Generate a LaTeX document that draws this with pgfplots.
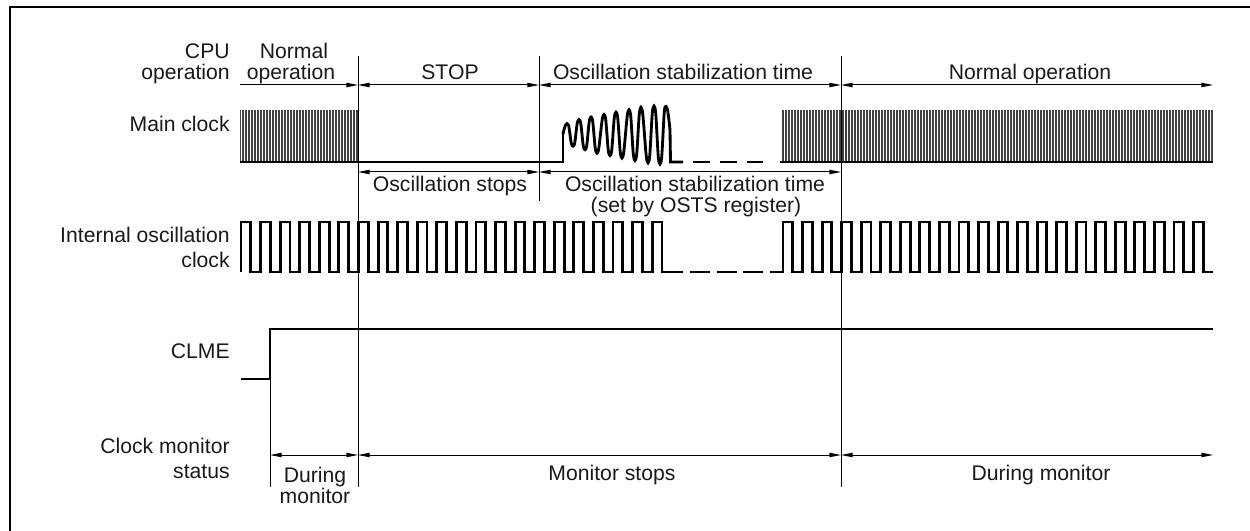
\documentclass[border=0pt]{standalone}
\usepackage{fontspec}
\setmainfont{Liberation Sans}
\usepackage{pgfplots}
\pgfplotsset{compat=1.18}
\usetikzlibrary{arrows.meta,patterns.meta}
\tikzset{
  sig/.style={line width=1.7pt, black, line join=miter},
  thinl/.style={line width=0.6pt, black},
  dim/.style={line width=0.6pt, black, {Triangle[length=7pt,width=2.6pt]}-{Triangle[length=7pt,width=2.6pt]}},
  rdim/.style={line width=0.6pt, black, -{Triangle[length=7pt,width=2.6pt]}},
  lbl/.style={font=\fontsize{12.7}{15}\selectfont, inner sep=0pt, text=black!90},
  hatch/.style={draw=none, pattern={Lines[angle=90,distance=1.8pt,line width=0.7pt]}, pattern color=black!75},
}

\begin{document}
\begin{tikzpicture}
\begin{axis}[
  width=750pt, height=318.6pt, scale only axis,
  xmin=0, xmax=1250, ymin=0, ymax=531, y dir=reverse,
  hide axis, clip=false,
]
\coordinate (SW) at (axis cs:0,531);
\coordinate (NE) at (axis cs:1250,0);

% frame
\addplot[line width=1.2pt] coordinates {(10,531)(10,7)(1250,7)};

% vertical reference lines
\addplot[thinl] coordinates {(358,56)(358,487)};
\addplot[thinl] coordinates {(539,56)(539,201)};
\addplot[thinl] coordinates {(841,56)(841,487)};
\addplot[thinl] coordinates {(270,379)(270,487)};

% CPU operation arrows
\addplot[rdim] coordinates {(240,85)(358,85)};
\addplot[dim] coordinates {(358,85)(539,85)};
\addplot[dim] coordinates {(539,85)(841,85)};
\addplot[dim] coordinates {(841,85)(1213,85)};

% main clock
\addplot[hatch] coordinates {(240,111)(358,111)(358,162)(240,162)(240,111)};
\addplot[hatch] coordinates {(782,111)(1213,111)(1213,162)(782,162)(782,111)};
\addplot[sig] coordinates {(240,162)(563,162)(563,134)};
\addplot[sig, smooth, tension=0.5] coordinates {(563,134)(565.5,125)(568.5,125)(571.5,144)(574.5,144)(577.5,122)(580.5,122)(583.5,147)(586.5,147)(589.5,120)(592.5,120)(595.5,150)(598.5,150)(602.5,118)(605.5,118)(608.5,152)(611.5,152)(614.5,116)(617.5,116)(620.5,154)(623.5,154)(627.5,114)(630.5,114)(633.5,156)(636.5,156)(639.5,112)(642.5,112)(646.5,158)(649.5,158)(652.5,111)(655.5,111)(658.5,159)(661.5,159)(664.5,110)(667.5,110)(670,130)};
\addplot[sig] coordinates {(670,130)(670.5,162)(683,162)};
\addplot[sig, unbounded coords=jump] coordinates {(693,162)(710,162)(715,nan)(720,162)(737,162)(742,nan)(747,162)(763,162)};
\addplot[sig] coordinates {(780,162)(1213,162)};

% oscillation stops arrows
\addplot[dim] coordinates {(358,172)(539,172)};
\addplot[dim] coordinates {(539,172)(841,172)};

% internal oscillation clock
\addplot[sig, const plot] coordinates {(241,272)(241,222)(250.8,272)(260.6,222)(270.4,272)(280.2,222)(290.0,272)(299.7,222)(309.5,272)(319.3,222)(329.1,272)(338.9,222)(348.7,272)(358.5,222)(368.3,272)(378.1,222)(387.9,272)(397.6,222)(407.4,272)(417.2,222)(427.0,272)(436.8,222)(446.6,272)(456.4,222)(466.2,272)(476.0,222)(485.8,272)(495.5,222)(505.3,272)(515.1,222)(524.9,272)(534.7,222)(544.5,272)(554.3,222)(564.1,272)(573.9,222)(583.7,272)(593.4,222)(603.2,272)(613.0,222)(622.8,272)(632.6,222)(642.4,272)(652.2,222)(662.0,272)(683,272)};
\addplot[sig, unbounded coords=jump] coordinates {(690,272)(710,272)(713,nan)(717,272)(737,272)(740,nan)(743,272)(763,272)};
\addplot[sig, const plot] coordinates {(770,272)(783,272)(783,222)(792.8,272)(802.6,222)(812.3,272)(822.1,222)(831.9,272)(841.7,222)(851.4,272)(861.2,222)(871.0,272)(880.8,222)(890.5,272)(900.3,222)(910.1,272)(919.9,222)(929.6,272)(939.4,222)(949.2,272)(959.0,222)(968.7,272)(978.5,222)(988.3,272)(998.1,222)(1007.8,272)(1017.6,222)(1027.4,272)(1037.2,222)(1046.9,272)(1056.7,222)(1066.5,272)(1076.3,222)(1086.0,272)(1095.8,222)(1105.6,272)(1115.4,222)(1125.1,272)(1134.9,222)(1144.7,272)(1154.5,222)(1164.2,272)(1174.0,222)(1183.8,272)(1193.6,222)(1203.3,272)(1213,272)};

% CLME
\addplot[sig] coordinates {(241,379)(270,379)(270,329)(1213,329)};

% clock monitor status arrows
\addplot[dim] coordinates {(270,455)(358,455)};
\addplot[dim] coordinates {(358,455)(841,455)};
\addplot[dim] coordinates {(841,455)(1213,455)};

% left labels
\node[lbl, anchor=base east] at (axis cs:230,59) {CPU};
\node[lbl, anchor=base east] at (axis cs:230,80) {operation};
\node[lbl, anchor=base east] at (axis cs:230,132) {Main clock};
\node[lbl, anchor=base east] at (axis cs:230,242) {Internal oscillation};
\node[lbl, anchor=base east] at (axis cs:230,267) {clock};
\node[lbl, anchor=base east] at (axis cs:230,358) {CLME};
\node[lbl, anchor=base east] at (axis cs:230,453) {Clock monitor};
\node[lbl, anchor=base east] at (axis cs:230,478) {status};

% top labels
\node[lbl, anchor=base] at (axis cs:294,59) {Normal};
\node[lbl, anchor=base] at (axis cs:291,80) {operation};
\node[lbl, anchor=base] at (axis cs:450,80) {STOP};
\node[lbl, anchor=base] at (axis cs:683,80) {Oscillation stabilization time};
\node[lbl, anchor=base] at (axis cs:1030,80) {Normal operation};

% middle labels
\node[lbl, anchor=base] at (axis cs:450,192) {Oscillation stops};
\node[lbl, anchor=base] at (axis cs:695,192) {Oscillation stabilization time};
\node[lbl, anchor=base] at (axis cs:696,213) {(set by OSTS register)};

% bottom labels
\node[lbl, anchor=base] at (axis cs:315,482) {During};
\node[lbl, anchor=base] at (axis cs:315,503) {monitor};
\node[lbl, anchor=base] at (axis cs:612,480) {Monitor stops};
\node[lbl, anchor=base] at (axis cs:1041,480) {During monitor};
\end{axis}
\pgfresetboundingbox
\path[use as bounding box] (SW) rectangle (NE);
\end{tikzpicture}
\end{document}
